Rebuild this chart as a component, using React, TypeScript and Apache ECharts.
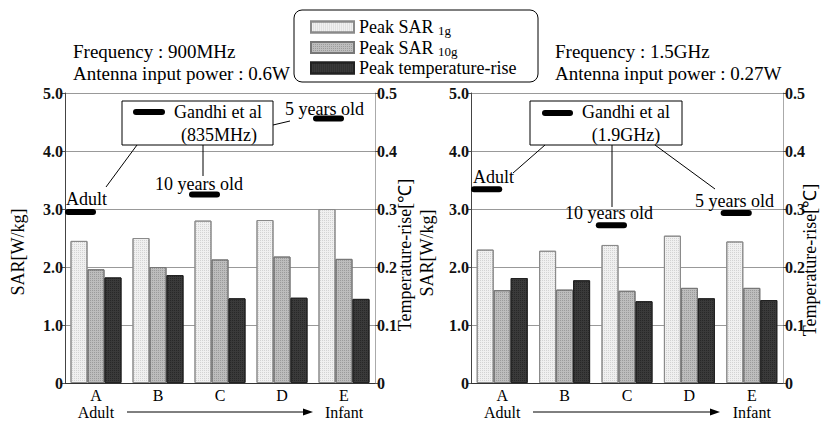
import React, { useEffect, useRef } from 'react';
import * as echarts from 'echarts';

const categories = ['A', 'B', 'C', 'D', 'E'];
const seriesNames = ['Peak SAR 1g', 'Peak SAR 10g', 'Peak temperature-rise'];
// 900 MHz (left panel)
const sar1g900 = [2.45, 2.5, 2.8, 2.81, 3.0];
const sar10g900 = [1.96, 2.0, 2.13, 2.18, 2.14];
const temp900 = [0.182, 0.186, 0.146, 0.147, 0.145];
// 1.5 GHz (right panel)
const sar1g1500 = [2.3, 2.28, 2.38, 2.54, 2.44];
const sar10g1500 = [1.6, 1.61, 1.59, 1.64, 1.64];
const temp1500 = [0.181, 0.177, 0.141, 0.146, 0.143];
// Gandhi et al reference values [category index, SAR]
const gandhi900 = [[0, 2.95], [2, 3.25], [4, 4.56]];
const gandhi1500 = [[0, 3.34], [2, 2.72], [4, 2.93]];
const gandhiLabels = ['Adult', '10 years old', '5 years old'];

const SERIF = 'Liberation Serif, Times New Roman, serif';

const fmt = (v: number) => (v === 0 ? '0' : v.toFixed(1));

export default function App() {
  const ref = useRef<HTMLDivElement>(null);
  useEffect(() => {
    document.body.style.margin = '0';
    const chart = echarts.init(ref.current!, null, { renderer: 'svg' });

    const mkX = (gi: number) => ({
      type: 'category',
      gridIndex: gi,
      data: categories,
      axisLine: { lineStyle: { color: '#333', width: 1.2 } },
      axisTick: { show: false },
      axisLabel: {
        margin: 4,
        fontFamily: SERIF,
        fontSize: 16,
        lineHeight: 17,
        color: '#000',
        formatter: (v: string, i: number) =>
          i === 0 ? v + '\nAdult' : i === categories.length - 1 ? v + '\nInfant' : v,
      },
    });
    const mkY = (gi: number, left: boolean) => ({
      type: 'value',
      gridIndex: gi,
      position: left ? 'left' : 'right',
      min: 0,
      max: left ? 5 : 0.5,
      interval: left ? 1 : 0.1,
      axisLine: { show: true, lineStyle: { color: left ? '#444' : '#aaa', width: 1 } },
      axisTick: { show: true, length: 3, lineStyle: { color: '#555' } },
      splitLine: left ? { show: true, lineStyle: { color: '#999', width: 1 } } : { show: false },
      axisLabel: {
        margin: 2,
        fontFamily: SERIF,
        fontWeight: 'bold',
        fontSize: 16,
        color: '#111',
        formatter: fmt,
      },
    });

    const barStyles = [
      {
        color: '#f0f0f0', borderColor: '#8a8a8a', borderWidth: 1,
        decal: { symbol: 'rect', symbolSize: 1, dashArrayX: [1, 1], dashArrayY: [1, 1], color: 'rgba(0,0,0,0.12)' },
      },
      {
        color: '#bdbdbd', borderColor: '#777', borderWidth: 1,
        decal: { symbol: 'rect', symbolSize: 1, dashArrayX: [1, 1], dashArrayY: [1, 1], color: 'rgba(0,0,0,0.18)' },
      },
      {
        color: '#3a3a3a', borderColor: '#222', borderWidth: 1,
        decal: { symbol: 'rect', symbolSize: 1, dashArrayX: [1, 1], dashArrayY: [1, 1], color: 'rgba(0,0,0,0.3)' },
      },
    ];
    const mkBars = (gi: number, d1: number[], d2: number[], d3: number[]) =>
      [d1, d2, d3].map((d, k) => ({
        type: 'bar',
        name: seriesNames[k],
        xAxisIndex: gi,
        yAxisIndex: gi * 2 + (k === 2 ? 1 : 0),
        data: d,
        barWidth: 17,
        barGap: '0%',
        itemStyle: barStyles[k],
      }));
    const mkGandhi = (gi: number, data: number[][]) => ({
      type: 'custom',
      name: 'Gandhi et al',
      xAxisIndex: gi,
      yAxisIndex: gi * 2,
      z: 5,
      data,
      encode: { x: 0, y: 1 },
      renderItem: (params: any, api: any) => {
        const p = api.coord([api.value(0), api.value(1)]);
        const band = api.size([1, 0])[0];
        return {
          type: 'line',
          shape: { x1: p[0] - band / 2 + 3, y1: p[1], x2: p[0] - 3, y2: p[1] },
          style: { stroke: '#000', lineWidth: 6, lineCap: 'round' },
        };
      },
    });

    const txt = (text: string, x: number, y: number, size = 18, align = 'left', extra: any = {}) => ({
      type: 'text',
      x,
      y,
      z: 20,
      ...extra,
      style: {
        text,
        fontFamily: SERIF,
        fontSize: size,
        fill: '#000',
        align,
        verticalAlign: 'middle',
      },
    });
    const ln = (x1: number, y1: number, x2: number, y2: number, w = 1) => ({
      type: 'line',
      z: 20,
      shape: { x1, y1, x2, y2 },
      style: { stroke: '#000', lineWidth: w },
    });
    const thick = (x1: number, x2: number, y: number) => ({
      type: 'line',
      z: 21,
      shape: { x1, y1: y, x2, y2: y },
      style: { stroke: '#000', lineWidth: 6, lineCap: 'round' },
    });
    const box = (x: number, y: number, w: number, h: number, r = 0) => ({
      type: 'rect',
      z: 19,
      shape: { x, y, width: w, height: h, r },
      style: { fill: '#fff', stroke: '#000', lineWidth: 1 },
    });
    const arrow = (x1: number, x2: number, y: number) => [
      ln(x1, y, x2 - 8, y, 1),
      {
        type: 'polygon',
        z: 20,
        shape: { points: [[x2, y], [x2 - 10, y - 3.5], [x2 - 10, y + 3.5]] },
        style: { fill: '#000' },
      },
    ];
    const vname = (text: string, x: number, y: number) =>
      txt(text, x, y, 18, 'center', { rotation: Math.PI / 2 });

    const graphic: any[] = [
      // main legend frame
      box(294, 10, 244, 72, 8),
      // headers
      txt('Frequency : 900MHz', 73, 51, 19),
      txt('Antenna input power : 0.6W', 73, 73, 19),
      txt('Frequency : 1.5GHz', 555, 51, 19),
      txt('Antenna input power : 0.27W', 555, 73, 19),
      // axis names
      vname('SAR[W/kg]', 18, 252),
      vname('Temperature-rise[℃]', 405, 255),
      vname('SAR[W/kg]', 427, 253),
      vname('Temperature-rise[℃]', 810, 260),
      // left annotation
      box(122, 101, 151, 44),
      thick(136, 162, 112),
      txt('Gandhi et al', 174, 112),
      txt('(835MHz)', 219, 135, 18, 'center'),
      ln(137, 145, 106, 187),
      ln(203, 145, 203, 176),
      ln(273, 125, 290, 121),
      txt(gandhiLabels[0], 66, 199),
      txt(gandhiLabels[1], 155, 184),
      txt(gandhiLabels[2], 285, 109),
      // right annotation
      box(530, 101, 152, 44),
      thick(545, 570, 113),
      txt('Gandhi et al', 582, 112),
      txt('(1.9GHz)', 626, 135, 18, 'center'),
      ln(545, 145, 513, 173),
      ln(612, 145, 612, 207),
      ln(655, 145, 715, 189),
      txt(gandhiLabels[0], 473, 177),
      txt(gandhiLabels[1], 565, 213),
      txt(gandhiLabels[2], 695, 201),
      // arrows
      ...arrow(127, 313, 412),
      ...arrow(533, 720, 412),
    ];

    const legendTops = [17, 37.5, 58];
    const legends = seriesNames.map((n, i) => ({
      orient: 'vertical',
      left: 310,
      top: legendTops[i],
      padding: 0,
      itemWidth: 43,
      itemHeight: 11,
      icon: 'rect',
      z: 25,
      data: [n],
      textStyle: {
        fontFamily: SERIF,
        fontSize: 18,
        lineHeight: 20,
        color: '#000',
        rich: {
          a: { fontFamily: SERIF, fontSize: 18, lineHeight: 20, color: '#000' },
          s: { fontFamily: SERIF, fontSize: 13, lineHeight: 14, color: '#000', verticalAlign: 'bottom' },
        },
      },
      formatter: (name: string) => {
        if (name === seriesNames[0]) return '{a|Peak SAR }{s|1g}';
        if (name === seriesNames[1]) return '{a|Peak SAR }{s|10g}';
        return '{a|' + name + '}';
      },
    }));

    chart.setOption({
      animation: false,
      backgroundColor: '#fff',
      textStyle: { fontFamily: SERIF },
      legend: legends,
      grid: [
        { left: 65, right: 447, top: 93, bottom: 39, containLabel: false, outerBoundsMode: 'none' },
        { left: 471, right: 39, top: 93, bottom: 39, containLabel: false, outerBoundsMode: 'none' },
      ],
      xAxis: [mkX(0), mkX(1)],
      yAxis: [mkY(0, true), mkY(0, false), mkY(1, true), mkY(1, false)],
      series: [
        ...mkBars(0, sar1g900, sar10g900, temp900),
        ...mkBars(1, sar1g1500, sar10g1500, temp1500),
        mkGandhi(0, gandhi900),
        mkGandhi(1, gandhi1500),
      ],
      graphic,
    });
    return () => chart.dispose();
  }, []);
  return <div ref={ref} style={{ width: 822, height: 422 }} />;
}
